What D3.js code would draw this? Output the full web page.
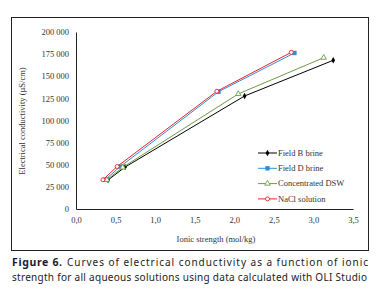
<!DOCTYPE html>
<html>
<head>
<meta charset="utf-8">
<script src="https://cdn.jsdelivr.net/npm/d3@7"></script>
<style>
  body { margin: 0; background: #fff; }
  svg { display: block; }
</style>
</head>
<body>
<svg id="chart" width="379" height="297"></svg>
<script>
// values
const fieldB = [[0.405, 32800], [0.62, 47400], [2.13, 127700], [3.25, 168000]];
const fieldD = [[0.37, 33200], [0.56, 48000], [1.80, 132500], [2.76, 176300]];
const dsw    = [[0.39, 33000], [0.59, 47000], [2.05, 130000], [3.13, 171000]];
const nacl   = [[0.34, 33000], [0.52, 48000], [1.78, 133000], [2.72, 177000]];
const xTicks = [0, 0.5, 1, 1.5, 2, 2.5, 3, 3.5];
const yTicks = [0, 25000, 50000, 75000, 100000, 125000, 150000, 175000, 200000];

const series = [
  {name: "Field B brine", data: fieldB, color: "#000000", marker: "diamond"},
  {name: "Field D brine", data: fieldD, color: "#2e8fd6", marker: "square"},
  {name: "Concentrated DSW", data: dsw, color: "#6f9a4a", marker: "triangle"},
  {name: "NaCl solution", data: nacl, color: "#e8202f", marker: "circle"}
];

const svg = d3.select("#chart");
const serif = "'Liberation Serif', 'DejaVu Serif', serif";

// outer frame
svg.append("rect")
  .attr("x", 11.5).attr("y", 17.5).attr("width", 357).attr("height", 233)
  .attr("fill", "none").attr("stroke", "#222").attr("stroke-width", 1);

const x = d3.scaleLinear().domain([0, 3.5]).range([76, 353]);
const y = d3.scaleLinear().domain([0, 200000]).range([209, 32]);

const fmtY = d => d3.format(",")(d).replace(/,/g, " ");
const fmtX = d => d3.format(".1f")(d).replace(".", ",");

const yAxis = svg.append("g")
  .attr("transform", "translate(76,0)")
  .call(d3.axisLeft(y).tickValues(yTicks).tickSize(0).tickPadding(7).tickFormat(fmtY));
const xAxis = svg.append("g")
  .attr("transform", "translate(0,209)")
  .call(d3.axisBottom(x).tickValues(xTicks).tickSize(0).tickPadding(8).tickFormat(fmtX));

[xAxis, yAxis].forEach(g => {
  g.select(".domain").attr("stroke", "#222").attr("stroke-width", 1);
  g.selectAll("text").attr("font-family", serif).attr("font-size", 8.5).attr("fill", "#333");
});

// axis titles
svg.append("text")
  .attr("transform", "translate(25,121) rotate(-90)")
  .attr("text-anchor", "middle")
  .attr("font-family", serif).attr("font-size", 8.5).attr("fill", "#333")
  .text("Electrical conductivity (µS/cm)");
svg.append("text")
  .attr("x", 216).attr("y", 242)
  .attr("text-anchor", "middle")
  .attr("font-family", serif).attr("font-size", 8.5).attr("fill", "#333")
  .text("Ionic strength (mol/kg)");

const line = d3.line().x(d => x(d[0])).y(d => y(d[1]));

function drawMarker(g, type, color, cx, cy) {
  if (type === "diamond") {
    g.append("path").attr("d", d3.symbol(d3.symbolDiamond, 12)())
      .attr("transform", `translate(${cx},${cy})`).attr("fill", color);
  } else if (type === "square") {
    g.append("rect").attr("x", cx - 2.2).attr("y", cy - 2.2).attr("width", 4.4).attr("height", 4.4)
      .attr("fill", color);
  } else if (type === "triangle") {
    g.append("path").attr("d", d3.symbol(d3.symbolTriangle, 13)())
      .attr("transform", `translate(${cx},${cy})`)
      .attr("fill", "#fff").attr("stroke", color).attr("stroke-width", 0.9);
  } else {
    g.append("circle").attr("cx", cx).attr("cy", cy).attr("r", 2)
      .attr("fill", "#fff").attr("stroke", color).attr("stroke-width", 0.9);
  }
}

const plot = svg.append("g");
series.forEach(s => {
  plot.append("path").datum(s.data)
    .attr("d", line).attr("fill", "none")
    .attr("stroke", s.color).attr("stroke-width", 1);
  s.data.forEach(d => drawMarker(plot, s.marker, s.color, x(d[0]), y(d[1])));
});

// legend
const legend = svg.append("g");
series.forEach((s, i) => {
  const ly = 153 + i * 15.3;
  legend.append("line").attr("x1", 258).attr("x2", 277).attr("y1", ly).attr("y2", ly)
    .attr("stroke", s.color).attr("stroke-width", 1);
  drawMarker(legend, s.marker, s.color, 267.5, ly);
  legend.append("text").attr("x", 278).attr("y", ly + 2.8)
    .attr("font-family", serif).attr("font-size", 8.5).attr("fill", "#333")
    .text(s.name);
});

// caption
const sans = "'Noto Sans', 'Open Sans', sans-serif";
svg.append("text")
  .attr("x", 12).attr("y", 266)
  .attr("font-family", sans).attr("font-size", 10.5).attr("font-weight", "bold").attr("fill", "#1a1a2e")
  .attr("textLength", 50).attr("lengthAdjust", "spacing")
  .text("Figure 6.");
svg.append("text")
  .attr("x", 67).attr("y", 266)
  .attr("font-family", sans).attr("font-size", 10).attr("fill", "#222")
  .attr("textLength", 301).attr("lengthAdjust", "spacing")
  .text("Curves of electrical conductivity as a function of ionic");
svg.append("text")
  .attr("x", 12).attr("y", 281)
  .attr("font-family", sans).attr("font-size", 10).attr("fill", "#222")
  .attr("textLength", 355).attr("lengthAdjust", "spacing")
  .text("strength for all aqueous solutions using data calculated with OLI Studio");
</script>
</body>
</html>
